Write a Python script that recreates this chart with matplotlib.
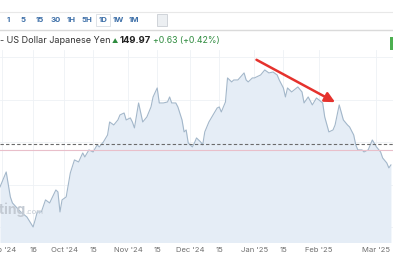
import matplotlib
matplotlib.use("Agg")
import matplotlib.pyplot as plt
from matplotlib.patches import Rectangle
import pandas as pd

plt.rcParams['font.family'] = ['Inter', 'DejaVu Sans']

# USD/JPY daily closes
dates = ["2024-08-31", "2024-09-03", "2024-09-05", "2024-09-06", "2024-09-10", "2024-09-13",
         "2024-09-16", "2024-09-17", "2024-09-18", "2024-09-20", "2024-09-22", "2024-09-24",
         "2024-09-27", "2024-09-28", "2024-09-29", "2024-09-30", "2024-10-02", "2024-10-04",
         "2024-10-06", "2024-10-08", "2024-10-10", "2024-10-11", "2024-10-13", "2024-10-15",
         "2024-10-17", "2024-10-18", "2024-10-20", "2024-10-22", "2024-10-23", "2024-10-25",
         "2024-10-27", "2024-10-28", "2024-10-30", "2024-10-31", "2024-11-02", "2024-11-03",
         "2024-11-04", "2024-11-06", "2024-11-08", "2024-11-10", "2024-11-12", "2024-11-13",
         "2024-11-15", "2024-11-16", "2024-11-18", "2024-11-20", "2024-11-21", "2024-11-22",
         "2024-11-24", "2024-11-25", "2024-11-27", "2024-11-28", "2024-11-29", "2024-11-30",
         "2024-12-02", "2024-12-03", "2024-12-04", "2024-12-06", "2024-12-07", "2024-12-08",
         "2024-12-10", "2024-12-12", "2024-12-14", "2024-12-15", "2024-12-16", "2024-12-18",
         "2024-12-19", "2024-12-21", "2024-12-22", "2024-12-24", "2024-12-27", "2024-12-28",
         "2024-12-29", "2024-12-31", "2025-01-01", "2025-01-04", "2025-01-06", "2025-01-08",
         "2025-01-10", "2025-01-12", "2025-01-13", "2025-01-15", "2025-01-16", "2025-01-17",
         "2025-01-19", "2025-01-22", "2025-01-24", "2025-01-25", "2025-01-27", "2025-01-29",
         "2025-01-31", "2025-02-03", "2025-02-04", "2025-02-06", "2025-02-08", "2025-02-09",
         "2025-02-11", "2025-02-13", "2025-02-15", "2025-02-16", "2025-02-18", "2025-02-19",
         "2025-02-20", "2025-02-22", "2025-02-23", "2025-02-25", "2025-02-27", "2025-03-01",
         "2025-03-03", "2025-03-04", "2025-03-06", "2025-03-07", "2025-03-08"]
prices = [144.72, 146.48, 143.54, 142.83, 141.77, 141.18,
          140.00, 140.83, 141.77, 141.77, 143.19, 142.83,
          144.36, 144.13, 141.77, 143.19, 143.54, 146.37,
          147.90, 147.66, 148.72, 148.25, 149.08, 148.84,
          149.67, 149.43, 150.02, 150.84, 152.37, 152.02,
          152.61, 153.20, 153.43, 152.61, 152.85, 152.37,
          151.67, 154.61, 152.37, 152.96, 154.14, 155.32,
          156.38, 154.61, 154.61, 154.73, 155.32, 154.61,
          154.61, 154.14, 152.61, 151.20, 151.43, 149.90,
          149.43, 149.90, 150.49, 150.02, 149.67, 151.20,
          152.37, 153.20, 154.02, 154.14, 153.55, 154.73,
          157.56, 157.09, 157.32, 157.32, 158.15, 157.32,
          157.09, 157.56, 157.56, 157.91, 158.50, 158.15,
          158.26, 157.91, 157.32, 156.38, 155.32, 156.38,
          155.91, 156.50, 155.91, 154.61, 155.32, 154.38,
          155.20, 154.61, 152.96, 151.20, 151.43, 152.02,
          154.38, 152.61, 152.02, 151.79, 150.84, 149.67,
          149.08, 149.08, 148.84, 149.08, 150.25, 149.43,
          148.84, 148.13, 147.54, 146.96, 147.31]

tick_dates = ["2024-09-01", "2024-09-16", "2024-10-01", "2024-10-15", "2024-11-01", "2024-11-15",
              "2024-12-01", "2024-12-15", "2025-01-01", "2025-01-15", "2025-02-01", "2025-03-01"]
tick_labels = ["Sep '24", "16", "Oct '24", "15", "Nov '24", "15",
               "Dec '24", "15", "Jan '25", "15", "Feb '25", "Mar '25"]

intervals = ["1", "5", "15", "30", "1H", "5H", "1D", "1W", "1M"]
prev_close = 149.80
ref_level = 149.08
arrow_start = ("2025-01-02", 159.7)
arrow_end = ("2025-02-09", 154.7)

x = pd.to_datetime(dates)

fig = plt.figure(figsize=(3.93, 2.67), dpi=100)
ax = fig.add_axes([0, 0.094, 1, 0.719])

ax.fill_between(x, prices, 130, color="#e5edf6", lw=0)
ax.plot(x, prices, color="#a3b7ca", lw=0.8)
ax.axhline(prev_close, color="#6b6b6b", lw=0.8, ls=(0, (3, 2)))
ax.axhline(ref_level, color="#e9bfca", lw=0.8)

ax.annotate("", xy=(pd.Timestamp(arrow_end[0]), arrow_end[1]),
            xytext=(pd.Timestamp(arrow_start[0]), arrow_start[1]),
            arrowprops=dict(arrowstyle="-|>,head_length=0.6,head_width=0.3",
                            color="#e5322d", lw=1.8, shrinkA=0, shrinkB=0))

ax.set_xlim(pd.Timestamp("2024-08-31"), pd.Timestamp("2025-03-09"))
ax.set_ylim(138.24, 160.86)
ax.set_xticks(pd.to_datetime(tick_dates))
ax.set_xticklabels(tick_labels)
ax.set_yticks([140, 145, 150, 155, 160])
ax.set_yticklabels([])
ax.tick_params(axis="both", length=0, labelsize=5.5, labelcolor="#6f6f6f", pad=4)
ax.grid(True, color="#eef1f5", lw=0.6)
ax.set_axisbelow(True)
for s in ax.spines.values():
    s.set_visible(False)

# watermark, cut by the left edge as in the screenshot
fig.text(25 / 393, 1 - 210 / 267, "Investing", ha="right", va="center",
         fontsize=10, fontweight="bold", color="#c3cad3")
fig.text(25 / 393, 1 - 212 / 267, ".com", ha="left", va="center",
         fontsize=5.5, color="#c3cad3")

# toolbar
fig.add_artist(plt.Line2D([0, 1], [1 - 12 / 267] * 2, color="#e8e8e8", lw=0.8))
fig.add_artist(plt.Line2D([0, 1], [1 - 30 / 267] * 2, color="#dadada", lw=1.0))
ix = [8, 23, 40, 56, 71, 87, 103, 118, 134]
for px, lab in zip(ix, intervals):
    fig.text(px / 393, 1 - 20 / 267, lab, ha="center", va="center",
             fontsize=5.6, fontweight="bold", color="#3d6fa8")
fig.add_artist(Rectangle((96 / 393, 1 - 26 / 267), 14 / 393, 12 / 267,
                         transform=fig.transFigure, fc="none", ec="#d8dde3", lw=0.6))
fig.add_artist(Rectangle((157 / 393, 1 - 26 / 267), 10 / 393, 12 / 267,
                         transform=fig.transFigure, fc="#eceff2", ec="#c9ced4", lw=0.6))

# title line
ty = 1 - 41 / 267
fig.text(0, ty, "- US Dollar Japanese Yen", ha="left", va="center", fontsize=6.5, color="#333333")
fig.text(115 / 393, ty, "\u25B2", ha="center", va="center", fontsize=4.5, color="#2e8b3e")
fig.text(120 / 393, ty, "149.97", ha="left", va="center", fontsize=6.8, fontweight="bold", color="#222222")
fig.text(153 / 393, ty, "+0.63 (+0.42%)", ha="left", va="center", fontsize=6.3, color="#2e8b3e")
fig.add_artist(Rectangle((390 / 393, 1 - 50 / 267), 3 / 393, 13 / 267,
                         transform=fig.transFigure, fc="#4caf50", ec="none"))

fig.savefig("out.png", dpi=100)
